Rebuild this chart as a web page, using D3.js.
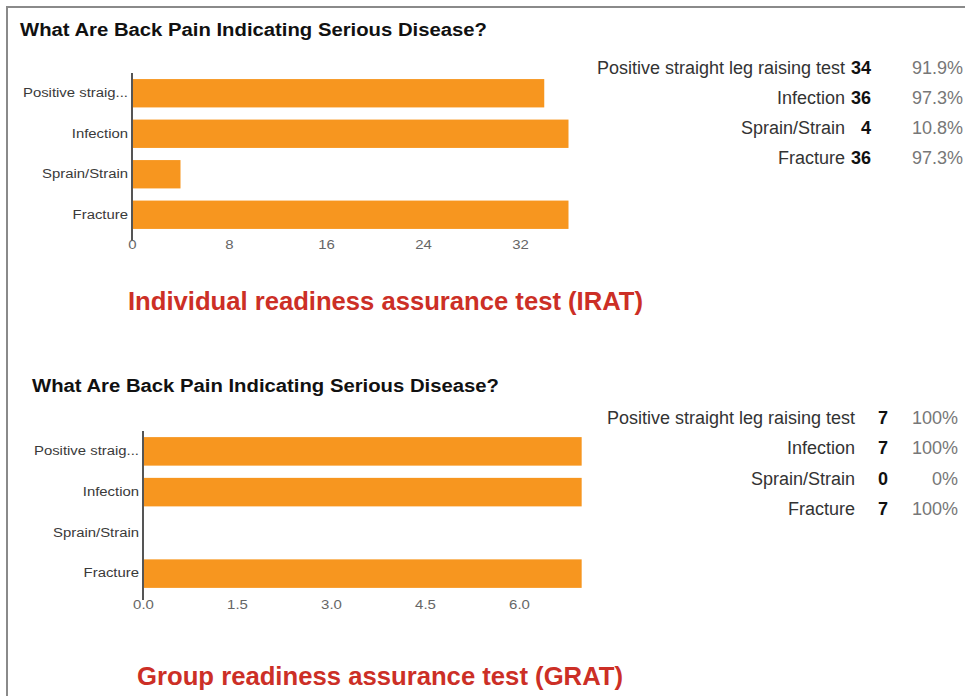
<!DOCTYPE html>
<html>
<head>
<meta charset="utf-8">
<script src="https://cdn.jsdelivr.net/npm/d3@7"></script>
<style>
  body { margin: 0; background: #fff; }
  svg { font-family: "Liberation Sans", Arial, sans-serif; }
</style>
</head>
<body>
<svg id="chart" width="965" height="696"></svg>
<script>
// data
var categories = ["Positive straight leg raising test", "Infection", "Sprain/Strain", "Fracture"];
var shortLabels = ["Positive straig...", "Infection", "Sprain/Strain", "Fracture"];
var iratCounts = [34, 36, 4, 36];
var iratPct = ["91.9%", "97.3%", "10.8%", "97.3%"];
var gratCounts = [7, 7, 0, 7];
var gratPct = ["100%", "100%", "0%", "100%"];
var iratTicks = [0, 8, 16, 24, 32];
var gratTicks = [0, 1.5, 3, 4.5, 6];
var chartTitle = "What Are Back Pain Indicating Serious Disease?";

var svg = d3.select("#chart");

// frame (left + top border)
svg.append("line").attr("x1", 7).attr("x2", 7).attr("y1", 6).attr("y2", 696)
    .attr("stroke", "#8a8a8a").attr("stroke-width", 2);
svg.append("line").attr("x1", 6).attr("x2", 965).attr("y1", 7).attr("y2", 7)
    .attr("stroke", "#8a8a8a").attr("stroke-width", 2);

// the source picture is a bit wider than normal text, stretch small labels
function stretch(sel, k) {
    sel.each(function () {
        var w = this.getComputedTextLength();
        d3.select(this).attr("textLength", w * k).attr("lengthAdjust", "spacingAndGlyphs");
    });
}

function drawPanel(opt) {
    var g = svg.append("g");

    g.append("text")
        .attr("x", opt.titleX).attr("y", opt.titleY)
        .attr("font-size", 18).attr("font-weight", "bold").attr("fill", "#111")
        .attr("textLength", 467).attr("lengthAdjust", "spacingAndGlyphs")
        .text(chartTitle);

    var x = d3.scaleLinear().domain(opt.domain).range([opt.x0, opt.x1]);
    var y = d3.scaleBand().domain(shortLabels).range([opt.yTop, opt.yBottom]).paddingInner(0.3).paddingOuter(0.15);

    g.selectAll("rect.bar")
        .data(opt.counts)
        .enter().append("rect")
        .attr("class", "bar")
        .attr("x", x(0))
        .attr("y", (d, i) => y(shortLabels[i]))
        .attr("width", d => x(d) - x(0))
        .attr("height", y.bandwidth())
        .attr("fill", "#f7961f");

    // axis line
    g.append("line")
        .attr("x1", x(0)).attr("x2", x(0))
        .attr("y1", opt.yTop).attr("y2", opt.yBottom + 6)
        .attr("stroke", "#555").attr("stroke-width", 2);

    var yAxis = g.append("g")
        .attr("transform", "translate(" + (x(0) - 4) + ",0)")
        .call(d3.axisLeft(y).tickSize(0).tickPadding(0));
    yAxis.select(".domain").remove();
    yAxis.selectAll("text").attr("font-size", 12).attr("fill", "#3a3a3a")
        .attr("font-family", "Liberation Sans, Arial, sans-serif")
        .call(stretch, 1.24);

    var xAxis = g.append("g")
        .attr("transform", "translate(0," + (opt.yBottom + opt.tickOff) + ")")
        .call(d3.axisBottom(x).tickValues(opt.ticks).tickFormat(opt.fmt).tickSize(0).tickPadding(3));
    xAxis.select(".domain").remove();
    xAxis.selectAll("text").attr("font-size", 13).attr("fill", "#666")
        .attr("font-family", "Liberation Sans, Arial, sans-serif")
        .call(stretch, 1.15);

    // summary table
    var rows = g.selectAll("g.row")
        .data(categories)
        .enter().append("g")
        .attr("class", "row")
        .attr("transform", (d, i) => "translate(0," + (opt.rowY + i * opt.rowStep) + ")");
    rows.append("text")
        .attr("x", opt.labelX).attr("text-anchor", "end")
        .attr("font-size", 18).attr("fill", "#333")
        .text(d => d);
    rows.append("text")
        .attr("x", opt.countX).attr("text-anchor", "end")
        .attr("font-size", 18).attr("font-weight", "bold").attr("fill", "#111")
        .text((d, i) => opt.counts[i]);
    rows.append("text")
        .attr("x", opt.pctX).attr("text-anchor", "end")
        .attr("font-size", 18).attr("fill", "#777")
        .text((d, i) => opt.pct[i]);

    g.append("text")
        .attr("x", opt.capX).attr("y", opt.capY)
        .attr("font-size", 25).attr("font-weight", "bold").attr("fill", "#cc2f26")
        .attr("textLength", opt.capW).attr("lengthAdjust", "spacingAndGlyphs")
        .text(opt.caption);
}

drawPanel({
    titleX: 20, titleY: 36,
    domain: [0, 32], x0: 132, x1: 520,
    yTop: 73, yBottom: 235, tickOff: 2,
    counts: iratCounts, pct: iratPct, ticks: iratTicks, fmt: d3.format("d"),
    rowY: 74, rowStep: 30, labelX: 845, countX: 871, pctX: 963,
    caption: "Individual readiness assurance test (IRAT)", capX: 128, capY: 310, capW: 515
});

drawPanel({
    titleX: 32, titleY: 392,
    domain: [0, 6], x0: 143, x1: 519,
    yTop: 431, yBottom: 594, tickOff: 3,
    counts: gratCounts, pct: gratPct, ticks: gratTicks, fmt: d3.format(".1f"),
    rowY: 424, rowStep: 30.3, labelX: 855, countX: 888, pctX: 958,
    caption: "Group readiness assurance test (GRAT)", capX: 137, capY: 685, capW: 486
});
</script>
</body>
</html>
